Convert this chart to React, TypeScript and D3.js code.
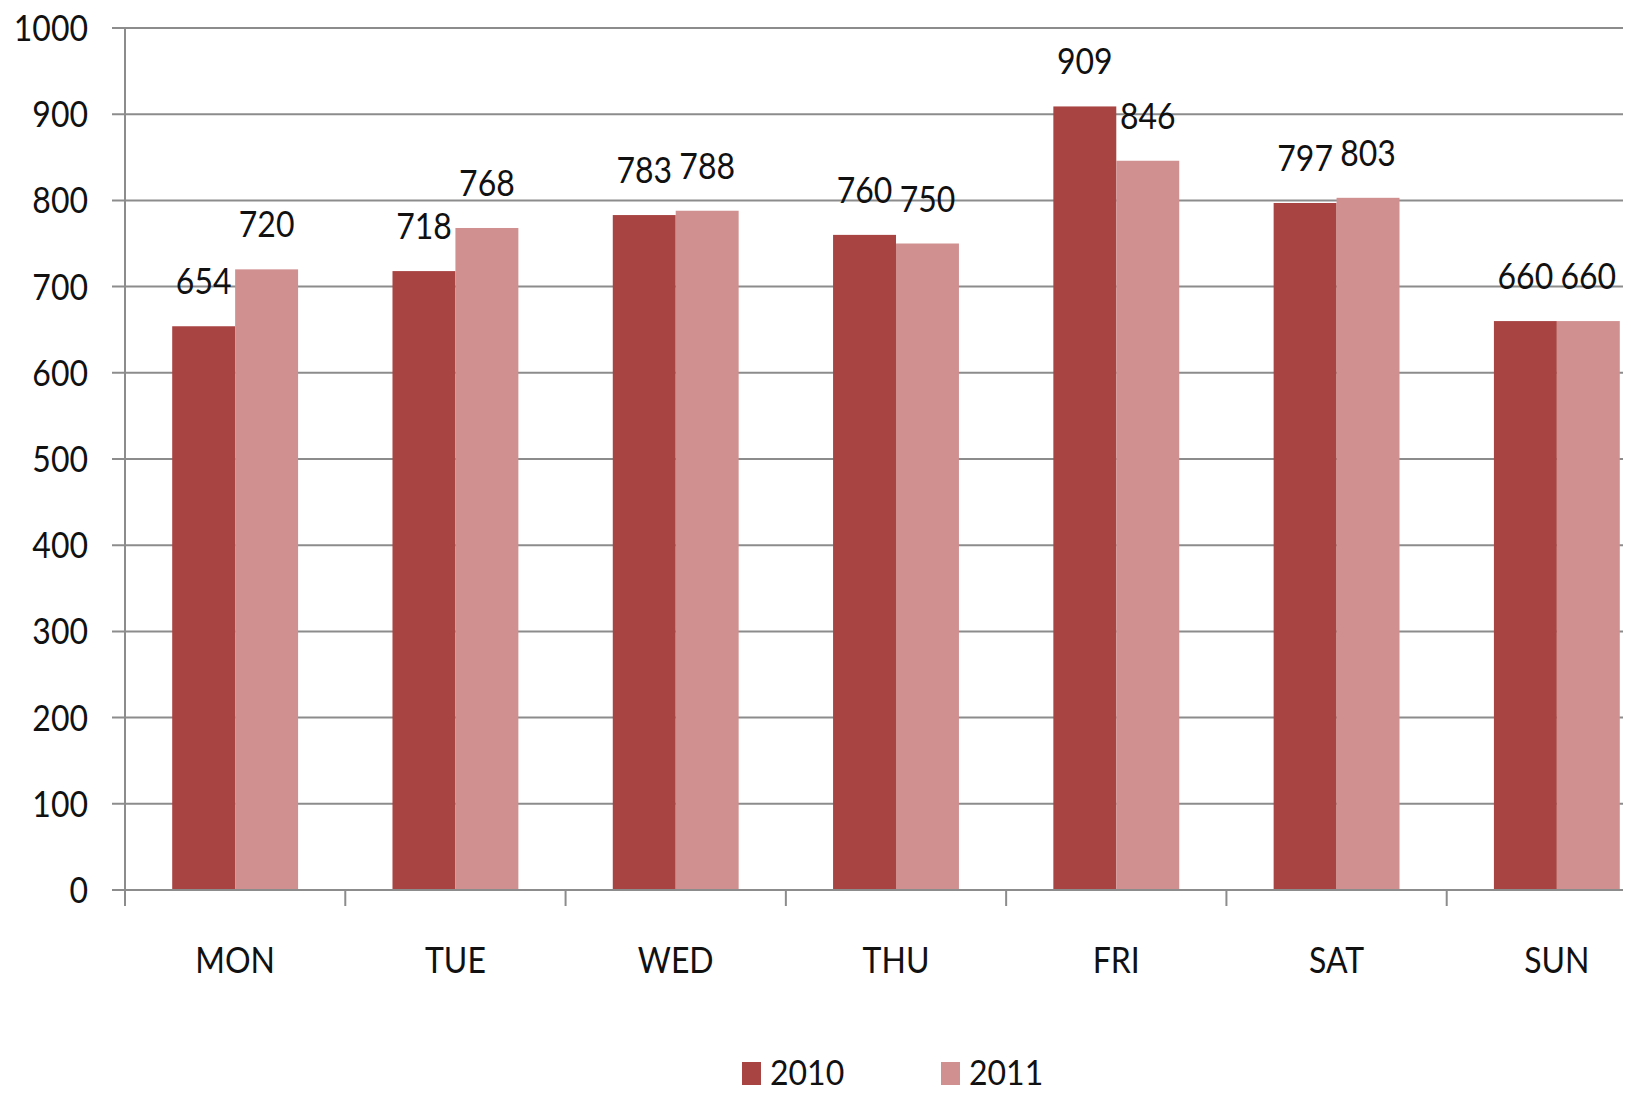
import { useRef, useEffect } from "react";
import * as d3 from "d3";

const days = ["MON", "TUE", "WED", "THU", "FRI", "SAT", "SUN"];
const series = ["2010", "2011"];
const values2010 = [654, 718, 783, 760, 909, 797, 660];
const values2011 = [720, 768, 788, 750, 846, 803, 660];
const yTicks = [0, 100, 200, 300, 400, 500, 600, 700, 800, 900, 1000];
const colors = ["#a84543", "#d19090"];

const W = 1631;
const H = 1094;
const FONT = "Lato, 'Open Sans', sans-serif";

function drawChart(el: SVGSVGElement) {
  const svg = d3.select(el);
  svg.selectAll("*").remove();

  const left = 125;
  const right = 1667;
  const x = d3.scaleBand<string>().domain(days).range([left, right]);
  const inner = d3.scaleBand<string>().domain(series).range([0, x.bandwidth()]).paddingInner(0).paddingOuter(0.75);
  const y = d3.scaleLinear().domain([0, 1000]).range([890, 28]);

  svg.append("defs").append("clipPath").attr("id", "plotClip")
    .append("rect").attr("x", 0).attr("y", 0).attr("width", 1623).attr("height", H);

  const g = svg.append("g").attr("clip-path", "url(#plotClip)");

  // gridlines + y ticks
  g.append("g").selectAll("line").data(yTicks).join("line")
    .attr("x1", 112).attr("x2", right)
    .attr("y1", d => y(d)).attr("y2", d => y(d))
    .attr("stroke", "#8c8c8c").attr("stroke-width", 2);

  svg.append("g").selectAll("text").data(yTicks).join("text")
    .attr("transform", d => `translate(88,${y(d) + 13}) scale(1,1.15)`)
    .attr("text-anchor", "end")
    .attr("font-family", FONT).attr("font-size", 32).attr("fill", "#111")
    .text(d => d);

  // bars
  const data = days.map((day, i) => ({ day, vals: [values2010[i], values2011[i]] }));
  const groups = g.append("g").selectAll("g").data(data).join("g")
    .attr("transform", d => `translate(${x(d.day)},0)`);

  groups.selectAll("rect").data(d => d.vals.map((v, k) => ({ k, v }))).join("rect")
    .attr("x", d => inner(series[d.k])!)
    .attr("width", inner.bandwidth())
    .attr("y", d => y(d.v))
    .attr("height", d => y(0) - y(d.v))
    .attr("fill", d => colors[d.k]);

  groups.selectAll("text").data(d => d.vals.map((v, k) => ({ k, v }))).join("text")
    .attr("transform", d => `translate(${inner(series[d.k])! + inner.bandwidth() / 2},${y(d.v) - 32}) scale(1,1.15)`)
    .attr("text-anchor", "middle")
    .attr("font-family", FONT).attr("font-size", 32).attr("fill", "#111")
    .text(d => d.v);

  // axes
  g.append("line").attr("x1", left).attr("x2", left).attr("y1", 28).attr("y2", 906)
    .attr("stroke", "#8c8c8c").attr("stroke-width", 2);
  g.append("line").attr("x1", 112).attr("x2", right).attr("y1", y(0)).attr("y2", y(0))
    .attr("stroke", "#8c8c8c").attr("stroke-width", 2);
  g.append("g").selectAll("line").data(days).join("line")
    .attr("x1", d => x(d)!).attr("x2", d => x(d)!)
    .attr("y1", y(0)).attr("y2", 906)
    .attr("stroke", "#8c8c8c").attr("stroke-width", 2);

  svg.append("g").selectAll("text").data(days).join("text")
    .attr("transform", d => `translate(${x(d)! + x.bandwidth() / 2},973) scale(1,1.15)`)
    .attr("text-anchor", "middle")
    .attr("font-family", FONT).attr("font-size", 32).attr("fill", "#111")
    .text(d => d);

  // legend
  const legendX = [742, 941];
  const leg = svg.append("g").selectAll("g").data(series).join("g")
    .attr("transform", (_, i) => `translate(${legendX[i]},0)`);
  leg.append("rect").attr("x", 0).attr("y", 1062).attr("width", 19).attr("height", 23)
    .attr("fill", (_, i) => colors[i]);
  leg.append("text")
    .attr("transform", "translate(28,1085) scale(1,1.1)")
    .attr("font-family", FONT).attr("font-size", 32).attr("fill", "#111")
    .text(d => d);
}

export default function App() {
  const ref = useRef<SVGSVGElement>(null);

  useEffect(() => {
    if (ref.current) drawChart(ref.current);
  }, []);

  return (
    <svg
      ref={ref}
      width={W}
      height={H}
      style={{ position: "absolute", left: 0, top: 0, background: "#fff" }}
    />
  );
}
